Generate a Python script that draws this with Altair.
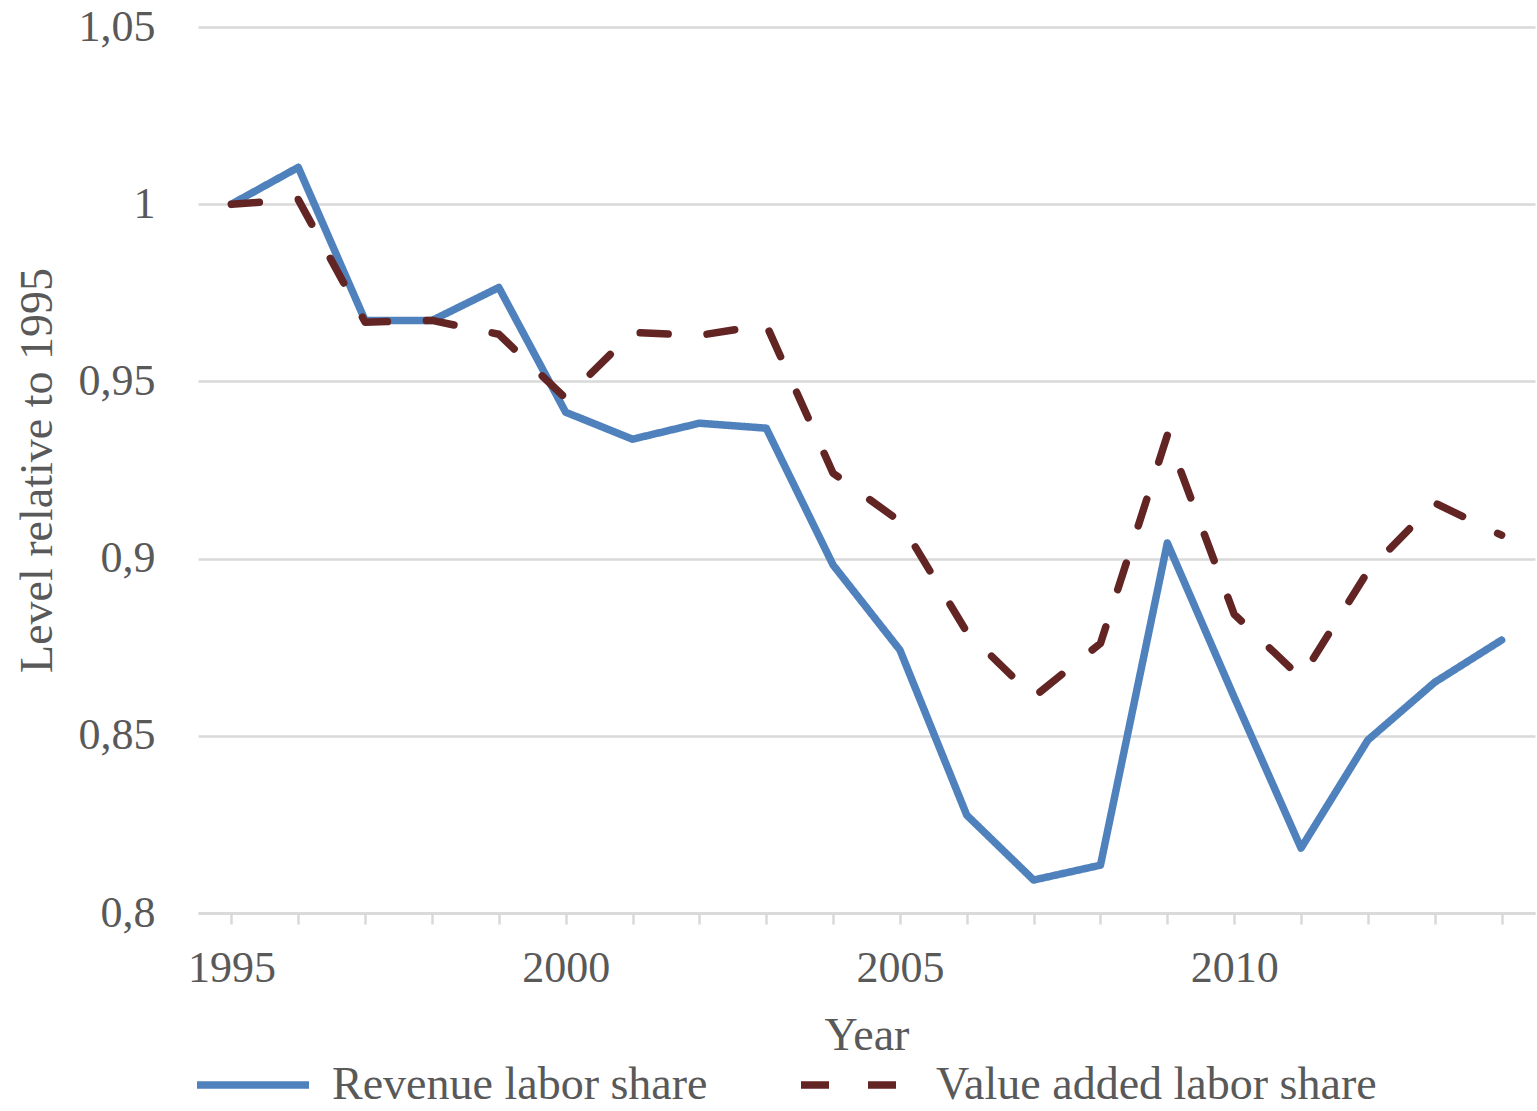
import altair as alt
import pandas as pd

years = list(range(1995, 2015))
revenue = [1.0, 1.0104, 0.9672, 0.9672, 0.9765, 0.9413, 0.9337, 0.9382, 0.9368, 0.8982,
           0.8742, 0.8276, 0.8093, 0.8135, 0.9044, 0.8609, 0.8183, 0.8488, 0.8651, 0.8770]
value_added = [1.0, 1.0013, 0.9667, 0.9672, 0.9633, 0.9452, 0.9638, 0.9630, 0.9660, 0.9241,
               0.9105, 0.8793, 0.8609, 0.8761, 0.9348, 0.8843, 0.8663, 0.8964, 0.9157, 0.9066]
series_names = ["Revenue labor share", "Value added labor share"]
y_ticks = [0.8, 0.85, 0.9, 0.95, 1.0, 1.05]

rows = []
for name, vals in zip(series_names, [revenue, value_added]):
    for yr, v in zip(years, vals):
        rows.append({"Year": yr, "Value": v, "Series": name})
df = pd.DataFrame(rows)

FONT = "Liberation Serif"
TXT = "#595959"
GRID = "#D9D9D9"

chart = alt.Chart(df).mark_line(strokeWidth=7.5, strokeCap="round", strokeJoin="round").encode(
    x=alt.X("Year:Q",
            scale=alt.Scale(domain=[1994.5, 2014.5], nice=False, zero=False),
            axis=alt.Axis(values=years, labelExpr="datum.value % 5 == 0 ? datum.value : ''",
                          grid=False, domain=True, domainColor=GRID, domainWidth=2.5,
                          ticks=True, tickColor=GRID, tickWidth=2.5, tickSize=11,
                          labelFont=FONT, labelFontSize=44, labelColor=TXT, labelPadding=22,
                          labelFlush=False, labelOverlap=False,
                          title="Year", titleFont=FONT, titleFontSize=46, titleColor=TXT,
                          titleFontWeight="normal", titlePadding=23)),
    y=alt.Y("Value:Q",
            scale=alt.Scale(domain=[0.8, 1.05], nice=False, zero=False),
            axis=alt.Axis(values=y_ticks,
                          labelExpr="replace(format(datum.value, '.2~f'), '.', ',')",
                          grid=True, gridColor=GRID, gridWidth=2.5,
                          domain=False, ticks=False,
                          labelFont=FONT, labelFontSize=44, labelColor=TXT, labelPadding=43,
                          labelOverlap=False,
                          title="Level relative to 1995", titleFont=FONT, titleFontSize=46,
                          titleColor=TXT, titleFontWeight="normal", titlePadding=17)),
    color=alt.Color("Series:N",
                    scale=alt.Scale(domain=series_names, range=["#4F81BD", "#632523"]),
                    legend=alt.Legend(orient="none", legendX=-5, legendY=998,
                                      direction="horizontal", title=None,
                                      symbolType="stroke", symbolSize=12544,
                                      symbolStrokeWidth=7.5, labelFont=FONT, labelFontSize=46,
                                      labelColor=TXT, labelOffset=19, columnPadding=78,
                                      labelLimit=1000, padding=0)),
    strokeDash=alt.StrokeDash("Series:N",
                              scale=alt.Scale(domain=series_names, range=[[1, 0], [28, 39]]),
                              legend=None),
).properties(
    width=1337, height=886,
    autosize=alt.AutoSizeParams(type="none"),
    padding={"left": 198, "top": 27, "right": 2, "bottom": 198},
).configure(background="white").configure_view(strokeWidth=0, stroke="transparent")

chart.save("out.html", embed_options={"renderer": "svg", "actions": False})
